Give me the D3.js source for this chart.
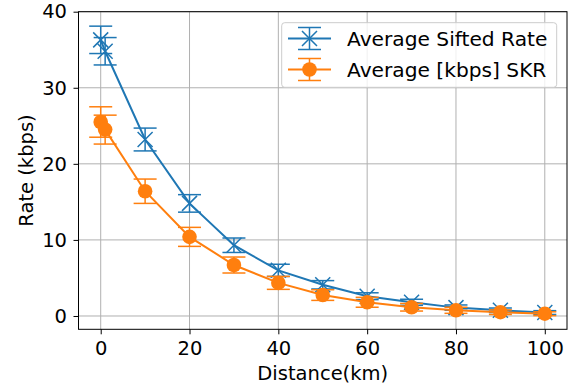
<!DOCTYPE html>
<html>
<head>
<meta charset="utf-8">
<script src="https://cdn.jsdelivr.net/npm/d3@7"></script>
<style>
body { margin: 0; background: #fff; }
svg text { font-family: "DejaVu Sans", sans-serif; fill: #000; }
</style>
</head>
<body>
<div id="graph"></div>
<script>
// data
let distance = [0, 1, 10, 20, 30, 40, 50, 60, 70, 80, 90, 100];
let siftedRate = [36.3, 34.8, 23.2, 14.8, 9.3, 6.0, 4.1, 2.6, 1.8, 1.1, 0.75, 0.45];
let siftedErr = [1.8, 1.8, 1.5, 1.15, 0.95, 0.8, 0.55, 0.45, 0.4, 0.35, 0.3, 0.25];
let skr = [25.5, 24.5, 16.4, 10.4, 6.7, 4.35, 2.75, 1.8, 1.15, 0.75, 0.5, 0.3];
let skrErr = [2.0, 1.9, 1.6, 1.25, 1.05, 0.85, 0.7, 0.65, 0.5, 0.4, 0.3, 0.25];
let xTicks = [0, 20, 40, 60, 80, 100];
let yTicks = [0, 10, 20, 30, 40];
let seriesNames = ['Average Sifted Rate', 'Average [kbps] SKR'];

let w = 569, h = 385;
let padL = 78.5, padR = 567, padT = 11.7, padB = 329.3;
let blue = '#1f77b4', orange = '#ff7f0e';
let fs = 19.5;

let svg = d3.select('#graph')
    .append('svg')
    .attr('width', w)
    .attr('height', h);

let x = d3.scaleLinear().domain([-5, 105]).range([padL, padR]);
let y = d3.scaleLinear().domain([-1.75, 40]).range([padB, padT]);

// grid
svg.append('g').selectAll('line')
    .data(xTicks).enter().append('line')
    .attr('x1', d => x(d)).attr('x2', d => x(d))
    .attr('y1', padT).attr('y2', padB)
    .attr('stroke', '#b0b0b0').attr('stroke-width', 1);
svg.append('g').selectAll('line')
    .data(yTicks).enter().append('line')
    .attr('y1', d => y(d)).attr('y2', d => y(d))
    .attr('x1', padL).attr('x2', padR)
    .attr('stroke', '#b0b0b0').attr('stroke-width', 1);

// axes
let xAxis = svg.append('g')
    .attr('transform', `translate(0,${padB})`)
    .call(d3.axisBottom(x).tickValues(xTicks).tickSize(5).tickPadding(6.5));
let yAxis = svg.append('g')
    .attr('transform', `translate(${padL},0)`)
    .call(d3.axisLeft(y).tickValues(yTicks).tickSize(5).tickPadding(6.5));
[xAxis, yAxis].forEach(a => {
    a.select('.domain').remove();
    a.selectAll('line').attr('stroke', '#000').attr('stroke-width', 1);
    a.selectAll('text').attr('font-size', fs).attr('font-family', 'DejaVu Sans');
});

svg.append('rect')
    .attr('x', padL).attr('y', padT)
    .attr('width', padR - padL).attr('height', padB - padT)
    .attr('fill', 'none').attr('stroke', '#000').attr('stroke-width', 1);

svg.append('text')
    .attr('x', (padL + padR) / 2).attr('y', 379.5)
    .attr('text-anchor', 'middle').attr('font-size', fs)
    .text('Distance(km)');
svg.append('text')
    .attr('transform', 'translate(33,170.5) rotate(-90)')
    .attr('text-anchor', 'middle').attr('font-size', fs)
    .text('Rate (kbps)');

let plot = svg.append('g');
let cap = 11.5;

function drawSeries(vals, errs, color, marker) {
    let g = plot.append('g');
    let line = d3.line().x((d, i) => x(distance[i])).y(d => y(d));
    g.append('path').datum(vals)
        .attr('d', line).attr('fill', 'none')
        .attr('stroke', color).attr('stroke-width', 2);
    let eb = g.selectAll('.eb').data(vals).enter().append('g');
    eb.append('line')
        .attr('x1', (d, i) => x(distance[i])).attr('x2', (d, i) => x(distance[i]))
        .attr('y1', (d, i) => y(d + errs[i])).attr('y2', (d, i) => y(d - errs[i]))
        .attr('stroke', color).attr('stroke-width', 1.5);
    [1, -1].forEach(s => {
        eb.append('line')
            .attr('x1', (d, i) => x(distance[i]) - cap).attr('x2', (d, i) => x(distance[i]) + cap)
            .attr('y1', (d, i) => y(d + s * errs[i])).attr('y2', (d, i) => y(d + s * errs[i]))
            .attr('stroke', color).attr('stroke-width', 1.5);
    });
    vals.forEach((d, i) => drawMarker(g, x(distance[i]), y(d), color, marker));
}

function drawMarker(g, cx, cy, color, marker) {
    if (marker === 'x') {
        let r = 7.5;
        g.append('path')
            .attr('d', `M${cx - r},${cy - r}L${cx + r},${cy + r}M${cx - r},${cy + r}L${cx + r},${cy - r}`)
            .attr('stroke', color).attr('stroke-width', 1.5).attr('fill', 'none');
    } else {
        g.append('circle').attr('cx', cx).attr('cy', cy).attr('r', 7.3).attr('fill', color);
    }
}

drawSeries(siftedRate, siftedErr, blue, 'x');
drawSeries(skr, skrErr, orange, 'o');

// legend
let lg = svg.append('g');
lg.append('rect')
    .attr('x', 281.7).attr('y', 22.7).attr('width', 275).attr('height', 64.6)
    .attr('rx', 3).attr('fill', '#fff').attr('fill-opacity', 0.8)
    .attr('stroke', '#cccccc').attr('stroke-width', 1);
let entries = [
    {name: seriesNames[0], color: blue, marker: 'x', cy: 38.5},
    {name: seriesNames[1], color: orange, marker: 'o', cy: 69.5}
];
entries.forEach(e => {
    let cx = 309.5;
    lg.append('line').attr('x1', 288).attr('x2', 331).attr('y1', e.cy).attr('y2', e.cy)
        .attr('stroke', e.color).attr('stroke-width', 2);
    lg.append('line').attr('x1', cx).attr('x2', cx).attr('y1', e.cy - 11).attr('y2', e.cy + 11)
        .attr('stroke', e.color).attr('stroke-width', 1.5);
    [-11, 11].forEach(o => {
        lg.append('line').attr('x1', cx - cap).attr('x2', cx + cap).attr('y1', e.cy + o).attr('y2', e.cy + o)
            .attr('stroke', e.color).attr('stroke-width', 1.5);
    });
    drawMarker(lg, cx, e.cy, e.color, e.marker);
    lg.append('text').attr('x', 347).attr('y', e.cy + 7)
        .attr('font-size', 20.2).text(e.name);
});
</script>
</body>
</html>
